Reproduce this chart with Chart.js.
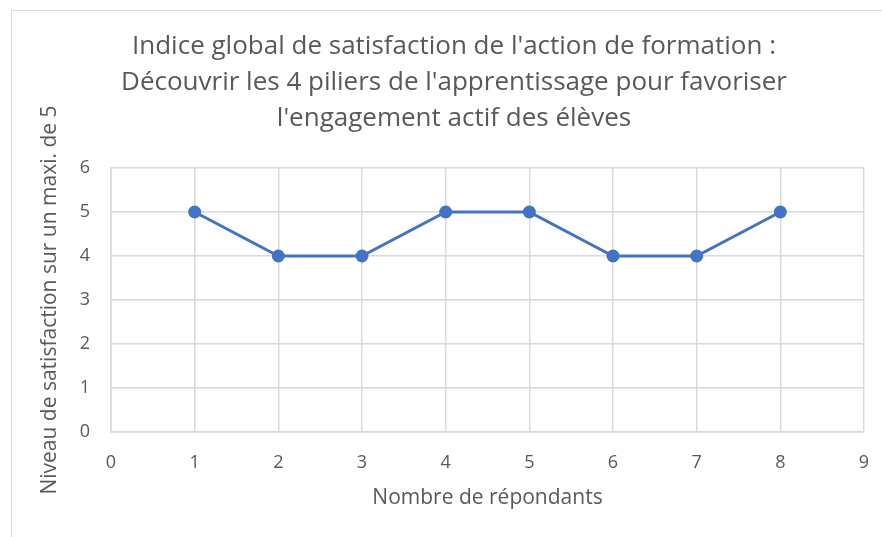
<!DOCTYPE html>
<html>
<head>
<meta charset="utf-8">
<script src="https://cdn.jsdelivr.net/npm/chart.js@4"></script>
<style>
  html, body { margin: 0; padding: 0; background: #fff; overflow: hidden; }
  #frame { position: absolute; left: 11px; top: 10px; width: 1000px; height: 1000px; border: 1.5px solid #d9d9d9; }
  #chart { position: absolute; left: 0; top: 0; }
</style>
</head>
<body>
<div id="frame"></div>
<canvas id="chart" width="882" height="537"></canvas>
<script>
// data
const respondents = [1, 2, 3, 4, 5, 6, 7, 8];
const satisfaction = [5, 4, 4, 5, 5, 4, 4, 5];
const xTicks = [0, 1, 2, 3, 4, 5, 6, 7, 8, 9];
const yTicks = [0, 1, 2, 3, 4, 5, 6];

const titleLines = [
    "Indice global de satisfaction de l'action de formation :",
    "Découvrir les 4 piliers de l'apprentissage pour favoriser",
    "l'engagement actif des élèves"
];

const grey = '#595959';
const gridColor = '#d9d9d9';
const family = "'Open Sans', sans-serif";

new Chart(document.getElementById("chart"), {
    type: 'line',
    data: {
        datasets: [{
            label: 'Satisfaction',
            data: respondents.map((r, i) => ({x: r, y: satisfaction[i]})),
            borderColor: '#4472C4',
            backgroundColor: '#4472C4',
            borderWidth: 3,
            pointRadius: 6.5,
            pointBorderWidth: 0,
            tension: 0,
            fill: false
        }]
    },
    options: {
        responsive: false,
        devicePixelRatio: 1,
        animation: false,
        layout: {padding: {left: 44, right: 18, top: 10, bottom: 0}},
        scales: {
            x: {
                type: 'linear',
                min: xTicks[0],
                max: xTicks[xTicks.length - 1],
                afterBuildTicks: s => { s.ticks = xTicks.map(v => ({value: v})); },
                afterFit: s => { s.height = 105; s.paddingLeft = 0; s.paddingRight = 0; },
                grid: {color: gridColor, lineWidth: 1.5, drawTicks: false},
                border: {color: gridColor, width: 1.5},
                ticks: {color: grey, padding: 20, font: {family, size: 18}},
                title: {
                    display: true,
                    text: 'Nombre de répondants',
                    color: grey,
                    font: {family, size: 21, lineHeight: 1.2},
                    padding: {top: 0, bottom: 26}
                }
            },
            y: {
                min: yTicks[0],
                max: yTicks[yTicks.length - 1],
                afterBuildTicks: s => { s.ticks = yTicks.map(v => ({value: v})); },
                afterFit: s => { s.width = 67; s.paddingTop = 0; s.paddingBottom = 0; },
                grid: {color: gridColor, lineWidth: 1.5, drawTicks: false},
                border: {color: gridColor, width: 1.5},
                ticks: {color: grey, padding: 21, font: {family, size: 18}},
                title: {
                    display: true,
                    text: 'Niveau de satisfaction sur un maxi. de 5',
                    color: grey,
                    font: {family, size: 21, lineHeight: 1.2},
                    padding: {top: -7, bottom: 0}
                }
            }
        },
        plugins: {
            legend: {display: false},
            tooltip: {enabled: false},
            title: {
                display: true,
                text: titleLines,
                color: grey,
                font: {family, size: 26, weight: 'normal', lineHeight: 36 / 26},
                padding: {top: 19, bottom: 31}
            }
        }
    }
});
</script>
</body>
</html>
